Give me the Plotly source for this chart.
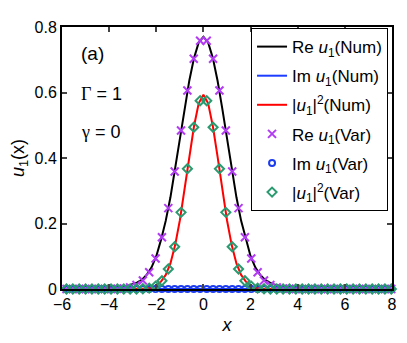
import plotly.graph_objects as go

# numerical solution, sampled on a fine grid
x_num = [-6.0, -5.8, -5.6, -5.4, -5.2, -5.0, -4.8, -4.6, -4.4, -4.2, -4.0, -3.8, -3.6, -3.4,
         -3.2, -3.0, -2.8, -2.6, -2.4, -2.2, -2.0, -1.8, -1.6, -1.4, -1.2, -1.0, -0.8, -0.6,
         -0.4, -0.2, 0.0, 0.2, 0.4, 0.6, 0.8, 1.0, 1.2, 1.4, 1.6, 1.8, 2.0, 2.2, 2.4, 2.6,
         2.8, 3.0, 3.2, 3.4, 3.6, 3.8, 4.0, 4.2, 4.4, 4.6, 4.8, 5.0, 5.2, 5.4, 5.6, 5.8,
         6.0, 6.2, 6.4, 6.6, 6.8, 7.0, 7.2, 7.4, 7.6, 7.8, 8.0]
re_num = [0.0, 0.0, 0.0, 0.0, 0.0, 0.0004, 0.0007, 0.001, 0.0012, 0.0018, 0.0025, 0.0035, 0.005, 0.007,
          0.010, 0.014, 0.020, 0.029, 0.044, 0.066, 0.100, 0.150, 0.208, 0.280, 0.366, 0.458, 0.551, 0.636,
          0.705, 0.753, 0.770, 0.753, 0.705, 0.636, 0.551, 0.458, 0.366, 0.280, 0.208, 0.150, 0.100, 0.066, 0.044, 0.029,
          0.020, 0.014, 0.010, 0.007, 0.005, 0.0035, 0.0025, 0.0018, 0.0012, 0.001, 0.0007, 0.0004, 0.0, 0.0, 0.0, 0.0,
          0.0, 0.0, 0.0, 0.0, 0.0, 0.0, 0.0, 0.0, 0.0, 0.0, 0.0]
im_num = [0.0, 0.0, 0.0, 0.0, 0.0, 0.0, 0.0, 0.0, 0.0, 0.0, 0.0, 0.0, 0.0, 0.0,
          0.0, 0.0, 0.0, 0.0, 0.0, 0.0, 0.0, 0.0, 0.0, 0.0, 0.0, 0.0, 0.0, 0.0,
          0.0, 0.0, 0.0, 0.0, 0.0, 0.0, 0.0, 0.0, 0.0, 0.0, 0.0, 0.0, 0.0, 0.0, 0.0, 0.0,
          0.0, 0.0, 0.0, 0.0, 0.0, 0.0, 0.0, 0.0, 0.0, 0.0, 0.0, 0.0, 0.0, 0.0, 0.0, 0.0,
          0.0, 0.0, 0.0, 0.0, 0.0, 0.0, 0.0, 0.0, 0.0, 0.0, 0.0]
abs2_num = [0.0, 0.0, 0.0, 0.0, 0.0, 0.0, 0.0, 0.0, 0.0, 0.0, 0.0, 0.0, 0.0, 0.0,
            0.0001, 0.0002, 0.0004, 0.0008, 0.0019, 0.0044, 0.010, 0.0225, 0.043, 0.078, 0.134, 0.210, 0.304, 0.404,
            0.497, 0.567, 0.593, 0.567, 0.497, 0.404, 0.304, 0.210, 0.134, 0.078, 0.043, 0.0225, 0.010, 0.0044, 0.0019, 0.0008,
            0.0004, 0.0002, 0.0001, 0.0, 0.0, 0.0, 0.0, 0.0, 0.0, 0.0, 0.0, 0.0, 0.0, 0.0, 0.0, 0.0,
            0.0, 0.0, 0.0, 0.0, 0.0, 0.0, 0.0, 0.0, 0.0, 0.0, 0.0]

# variational points
x_var = [-5.81, -5.54, -5.27, -5.00, -4.73, -4.46, -4.19, -3.92, -3.65, -3.38, -3.11, -2.84, -2.57,
         -2.30, -2.03, -1.76, -1.49, -1.22, -0.95, -0.68, -0.41, -0.14, 0.14, 0.41, 0.68, 0.95,
         1.22, 1.49, 1.76, 2.03, 2.30, 2.57, 2.84, 3.11, 3.38, 3.65, 3.92, 4.19, 4.46, 4.73,
         5.00, 5.27, 5.54, 5.81, 6.08, 6.35, 6.62, 6.89, 7.16, 7.43, 7.70, 7.97]
re_var = [0.0, 0.0, 0.0, 0.0, 0.0, 0.0, 0.0, 0.0, 0.001, 0.002, 0.005, 0.012, 0.026,
          0.051, 0.093, 0.158, 0.247, 0.359, 0.484, 0.606, 0.703, 0.758, 0.758, 0.703, 0.606, 0.484,
          0.359, 0.247, 0.158, 0.093, 0.051, 0.026, 0.012, 0.005, 0.002, 0.001, 0.0, 0.0, 0.0, 0.0,
          0.0, 0.0, 0.0, 0.0, 0.0, 0.0, 0.0, 0.0, 0.0, 0.0, 0.0, 0.0]
im_var = [0.0, 0.0, 0.0, 0.0, 0.0, 0.0, 0.0, 0.0, 0.0, 0.0, 0.0, 0.0, 0.0,
          0.0, 0.0, 0.0, 0.0, 0.0, 0.0, 0.0, 0.0, 0.0, 0.0, 0.0, 0.0, 0.0,
          0.0, 0.0, 0.0, 0.0, 0.0, 0.0, 0.0, 0.0, 0.0, 0.0, 0.0, 0.0, 0.0, 0.0,
          0.0, 0.0, 0.0, 0.0, 0.0, 0.0, 0.0, 0.0, 0.0, 0.0, 0.0, 0.0]
abs2_var = [0.0, 0.0, 0.0, 0.0, 0.0, 0.0, 0.0, 0.0, 0.0, 0.0, 0.0, 0.0, 0.0007,
            0.0026, 0.0086, 0.025, 0.061, 0.129, 0.234, 0.367, 0.494, 0.575, 0.575, 0.494, 0.367, 0.234,
            0.129, 0.061, 0.025, 0.0086, 0.0026, 0.0007, 0.0, 0.0, 0.0, 0.0, 0.0, 0.0, 0.0, 0.0,
            0.0, 0.0, 0.0, 0.0, 0.0, 0.0, 0.0, 0.0, 0.0, 0.0, 0.0, 0.0]

x_ticks = [-6, -4, -2, 0, 2, 4, 6, 8]
y_ticks = [0, 0.2, 0.4, 0.6, 0.8]
y_ticktext = ["0", "0.2", "0.4", "0.6", "0.8"]

FONT = "Liberation Sans, Arial, sans-serif"
SERIF = "<span style='font-family:Liberation Serif, serif'>%s</span>"
U1 = "<i>u</i><sub>1</sub>"

traces = [
    go.Scatter(x=x_num, y=re_num, mode="lines", line=dict(color="black", width=2),
               name="Re " + U1 + "(Num)", legendgroup="a"),
    go.Scatter(x=x_num, y=im_num, mode="lines", line=dict(color="#1c3cff", width=2),
               name="Im " + U1 + "(Num)", legendgroup="b"),
    go.Scatter(x=x_num, y=abs2_num, mode="lines", line=dict(color="#ff0000", width=2),
               name="|" + U1 + "|<sup>2</sup>(Num)", legendgroup="c"),
    go.Scatter(x=x_var, y=re_var, mode="markers", cliponaxis=False,
               marker=dict(symbol="x-thin", size=8, line=dict(color="#b23cf2", width=2)),
               name="Re " + U1 + "(Var)", legendgroup="d"),
    go.Scatter(x=x_var, y=im_var, mode="markers", cliponaxis=False,
               marker=dict(symbol="circle-open", size=6, color="#1c3cf0", line=dict(width=2)),
               name="Im " + U1 + "(Var)", legendgroup="e"),
    go.Scatter(x=x_var, y=abs2_var, mode="markers", cliponaxis=False,
               marker=dict(symbol="diamond-open", size=7, color="#2a9a70", line=dict(width=2)),
               name="|" + U1 + "|<sup>2</sup>(Var)", legendgroup="f"),
]

# the page body adds an 8 px offset, so the figure is 8 px smaller on each axis
layout = go.Layout(
    width=399,
    height=335,
    margin=dict(l=54, r=15, t=19, b=54),
    paper_bgcolor="white",
    plot_bgcolor="white",
    font=dict(family=FONT, size=16, color="black"),
    showlegend=True,
    legend=dict(
        x=0.988, y=0.996, xanchor="right", yanchor="top",
        bgcolor="white", bordercolor="black", borderwidth=1,
        font=dict(size=17), tracegroupgap=4, traceorder="grouped",
    ),
    xaxis=dict(
        range=[-6, 8], tickvals=x_ticks, ticks="inside", ticklen=5, tickwidth=1.5,
        showline=True, linecolor="black", linewidth=2, mirror="ticks",
        showgrid=False, zeroline=False, automargin=False,
        title=dict(text="<i>x</i>", font=dict(size=18), standoff=6),
    ),
    yaxis=dict(
        range=[0, 0.8], tickvals=y_ticks, ticktext=y_ticktext, ticks="inside", ticklen=5, tickwidth=1.5,
        showline=True, linecolor="black", linewidth=2, mirror="ticks",
        showgrid=False, zeroline=False, automargin=False,
        title=dict(text=U1 + "(x)", font=dict(size=18), standoff=8),
    ),
    annotations=[
        dict(text="(a)", x=-5.3, y=0.72, xref="x", yref="y", showarrow=False,
             xanchor="left", font=dict(size=19)),
        dict(text=SERIF % "Γ" + " = 1", x=-5.3, y=0.595, xref="x", yref="y",
             showarrow=False, xanchor="left", font=dict(size=18)),
        dict(text=SERIF % "γ" + " = 0", x=-5.3, y=0.479, xref="x", yref="y",
             showarrow=False, xanchor="left", font=dict(size=18)),
    ],
)

fig = go.Figure(data=traces, layout=layout)
fig.write_html("out.html")
